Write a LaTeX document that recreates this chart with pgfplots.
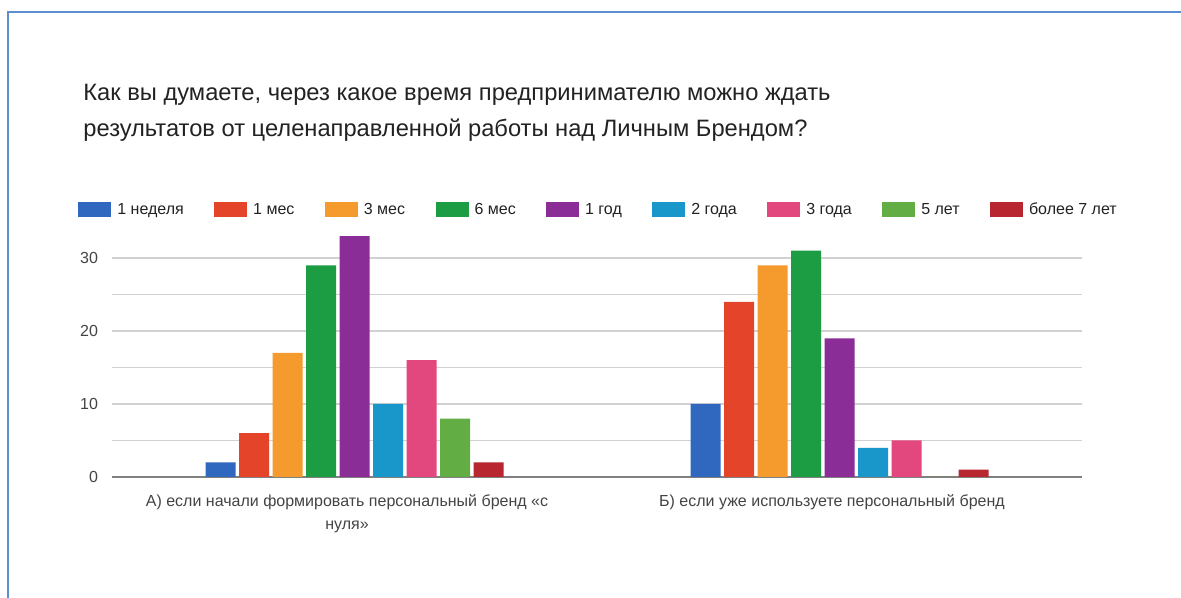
\documentclass[border=0pt]{standalone}
\usepackage{fontspec}
\setmainfont{Liberation Sans}
\usepackage{pgfplots}
\pgfplotsset{compat=1.18}
\definecolor{cBlue}{HTML}{3068C0}
\definecolor{cRed}{HTML}{E4442A}
\definecolor{cOrange}{HTML}{F59A2C}
\definecolor{cGreen}{HTML}{1D9D43}
\definecolor{cPurple}{HTML}{8A2D96}
\definecolor{cTeal}{HTML}{1997CB}
\definecolor{cPink}{HTML}{E2477E}
\definecolor{cLGreen}{HTML}{62AE45}
\definecolor{cDRed}{HTML}{B8262F}
\definecolor{frameBlue}{HTML}{5B8FD0}
\definecolor{txt}{HTML}{222222}
\definecolor{lbl}{HTML}{444444}
\pgfplotsset{ybar legend/.style={/pgfplots/legend image code/.code={\fill[##1,draw=none] (0pt,-3.75pt) rectangle (16.5pt,3.75pt);}}}
\begin{document}
\begin{tikzpicture}
\useasboundingbox (0,0) rectangle (590.5pt,299pt);
\fill[white] (0,0) rectangle (590.5pt,299pt);
\draw[frameBlue, line width=1.1pt] (4pt,0pt) -- (4pt,293pt) -- (590.5pt,293pt);
\node[anchor=base west, inner sep=0pt, font=\fontsize{11.85}{14}\selectfont, text=txt] at (41.5pt,248.5pt) {Как вы думаете, через какое время предпринимателю можно ждать};
\node[anchor=base west, inner sep=0pt, font=\fontsize{11.85}{14}\selectfont, text=txt] at (41.5pt,230.5pt) {результатов от целенаправленной работы над Личным Брендом?};
\begin{axis}[
  at={(56pt,60.5pt)}, anchor=south west,
  scale only axis, width=485pt, height=127.75pt,
  xmin=-0.5, xmax=1.5, ymin=0, ymax=35,
  ybar=1.75pt, bar width=15pt,
  axis line style={draw=none},
  xtick={0,1},
  xticklabels={{А) если начали формировать персональный бренд «с\\нуля»},{Б) если уже используете персональный бренд}},
  xticklabel style={align=center, font=\fontsize{8}{11.5}\selectfont, text=lbl, xshift=-3.75pt, yshift=-5.5pt},
  ytick={0,10,20,30},
  minor ytick={5,15,25},
  ymajorgrids, yminorgrids,
  grid style={draw=black!18, line width=0.6pt},
  minor grid style={draw=black!18, line width=0.6pt},
  extra y ticks={0}, extra y tick labels={},
  extra y tick style={grid style={draw=black!50, line width=1pt}},
  major tick length=0pt, minor tick length=0pt,
  tick style={draw=none},
  yticklabel style={font=\fontsize{8}{10}\selectfont, text=lbl, xshift=-3.5pt},
  /pgf/number format/assume math mode=true,
  legend columns=9,
  legend style={draw=none, fill=none, at={(0,1)}, anchor=west, xshift=-17pt, yshift=5.75pt,
    inner sep=0pt, font=\fontsize{8}{10}\selectfont, text=txt,
    /tikz/every even column/.append style={column sep=13.2pt},
    /tikz/every odd column/.append style={column sep=1pt}},
]
\addplot[fill=cBlue, draw=none] coordinates {(0,2) (1,10)};
\addplot[fill=cRed, draw=none] coordinates {(0,6) (1,24)};
\addplot[fill=cOrange, draw=none] coordinates {(0,17) (1,29)};
\addplot[fill=cGreen, draw=none] coordinates {(0,29) (1,31)};
\addplot[fill=cPurple, draw=none] coordinates {(0,33) (1,19)};
\addplot[fill=cTeal, draw=none] coordinates {(0,10) (1,4)};
\addplot[fill=cPink, draw=none] coordinates {(0,16) (1,5)};
\addplot[fill=cLGreen, draw=none] coordinates {(0,8) (1,0)};
\addplot[fill=cDRed, draw=none] coordinates {(0,2) (1,1)};
\legend{1 неделя, 1 мес, 3 мес, 6 мес, 1 год, 2 года, 3 года, 5 лет, более 7 лет}
\end{axis}
\end{tikzpicture}
\end{document}
